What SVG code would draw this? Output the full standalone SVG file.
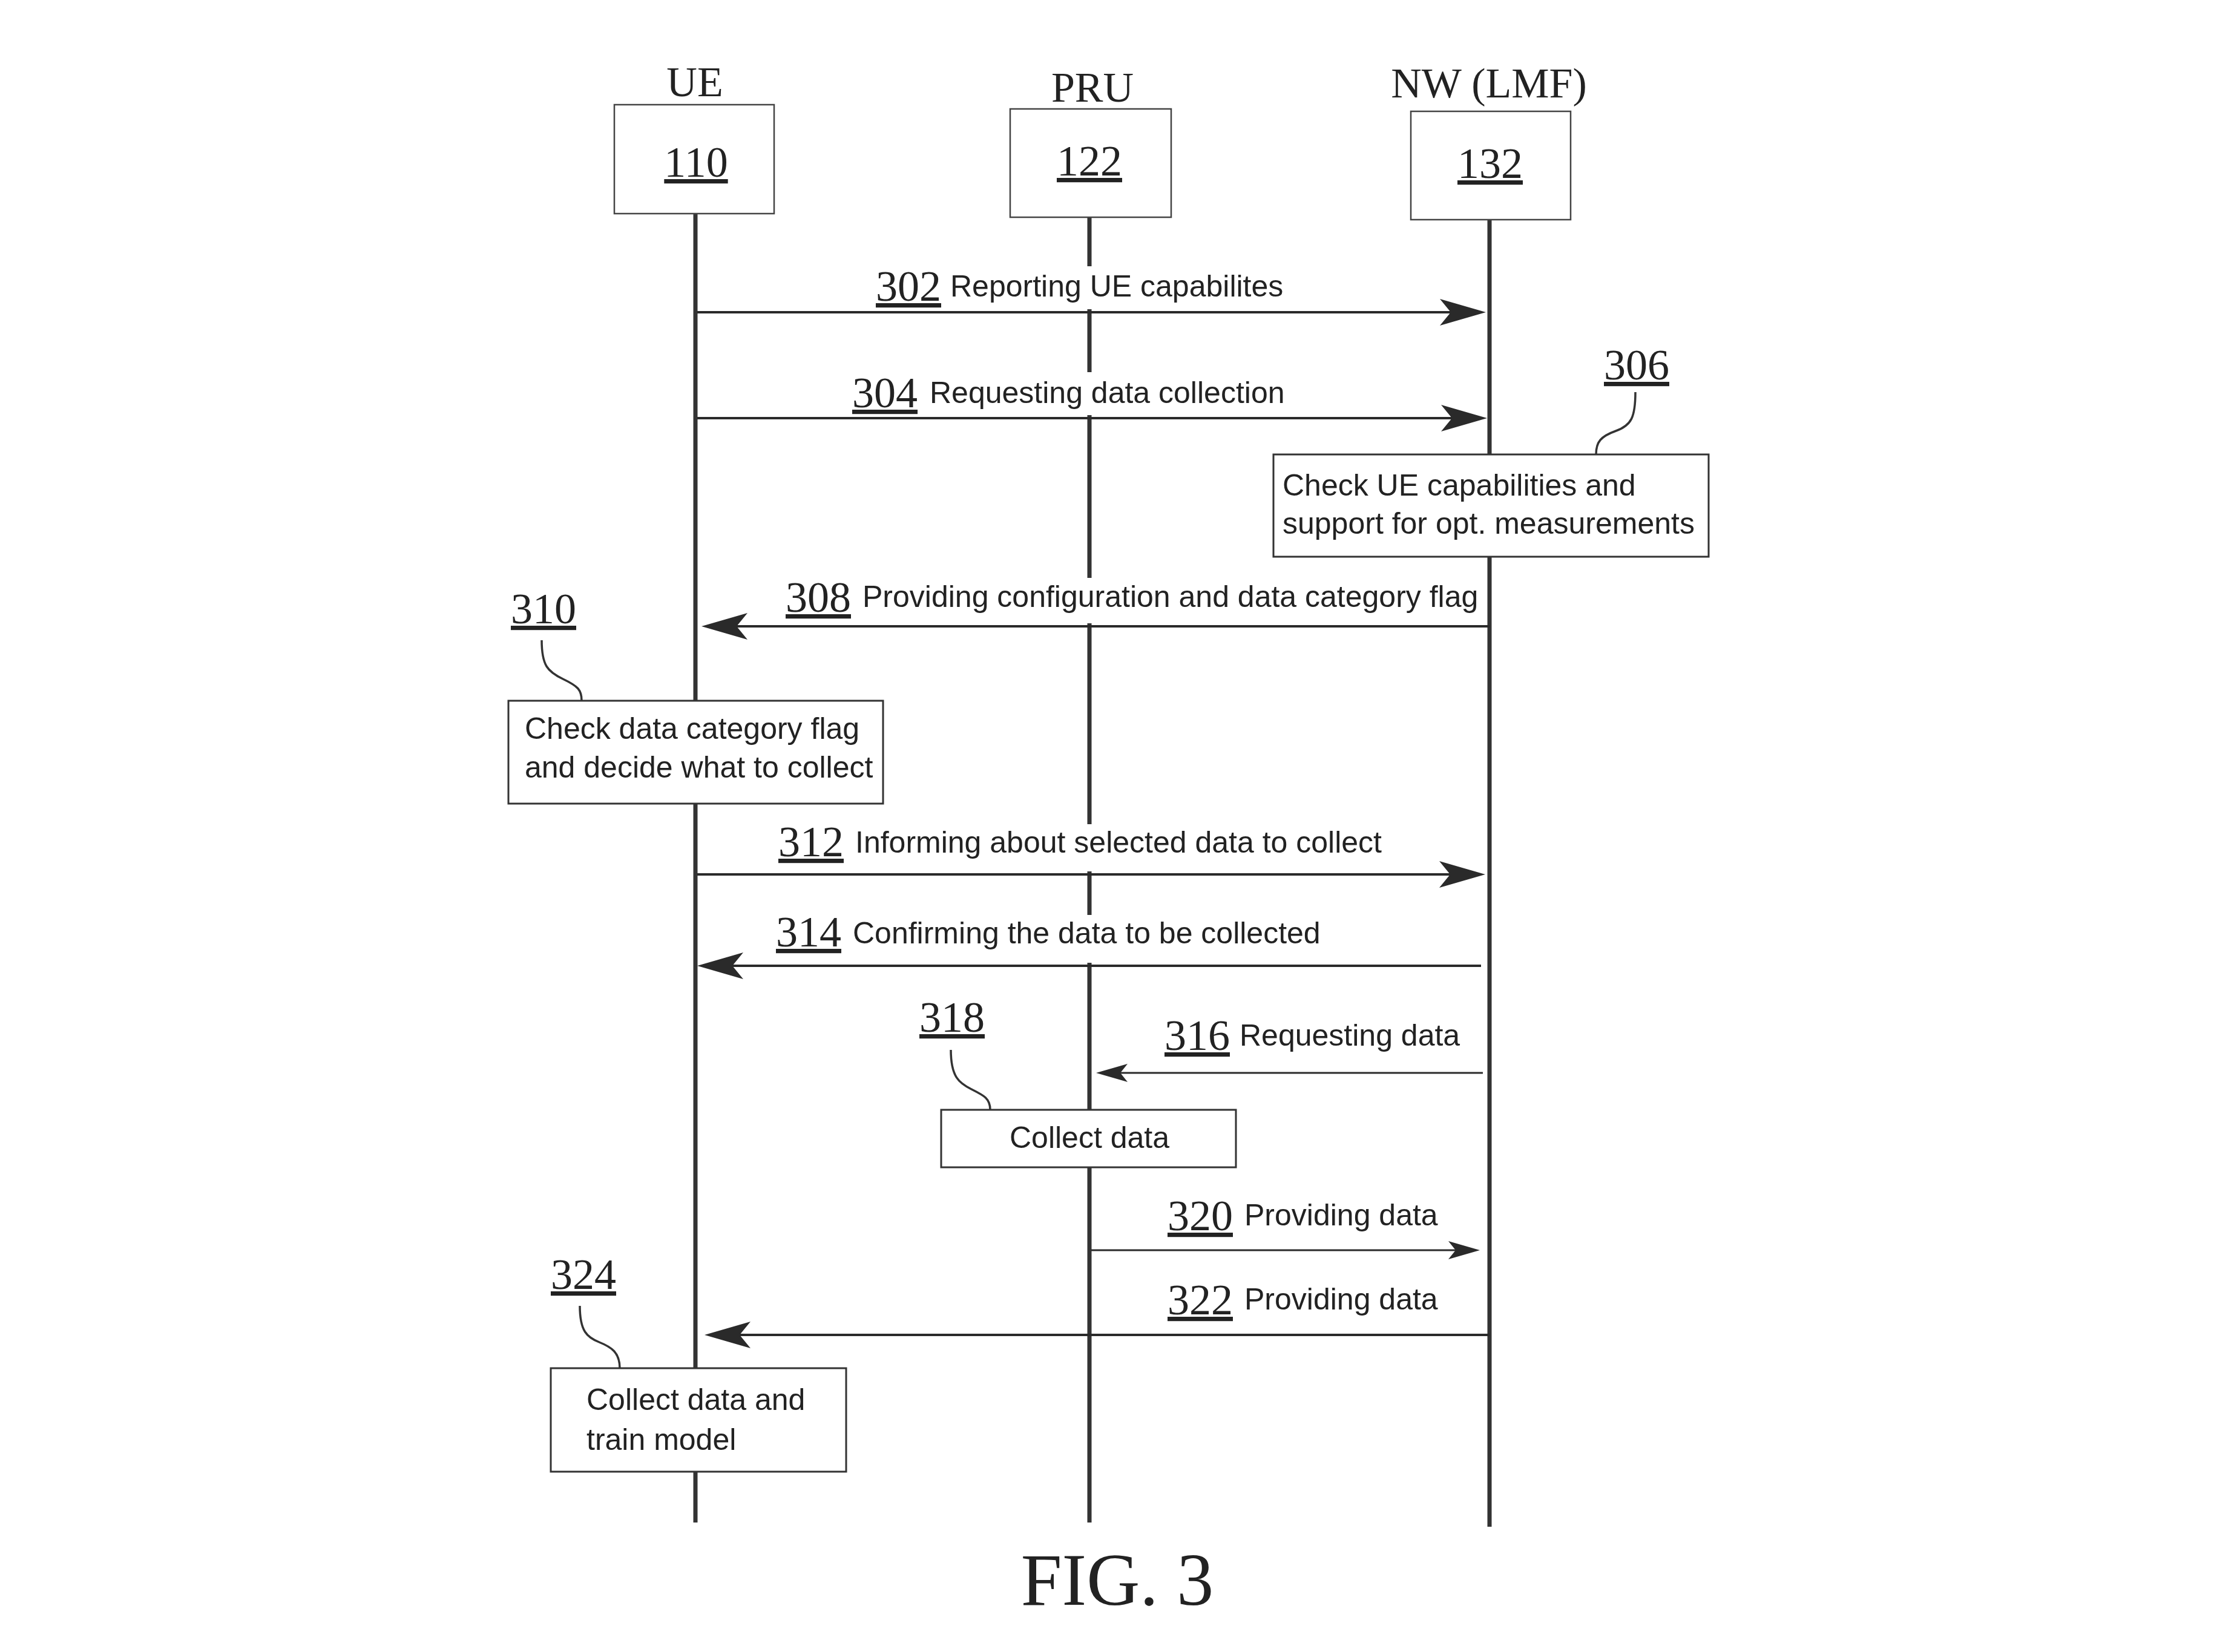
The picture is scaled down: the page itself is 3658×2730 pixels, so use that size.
<svg xmlns="http://www.w3.org/2000/svg" width="3658" height="2730" viewBox="0 0 3658 2730">
<style>
.hdr{font-family:"Liberation Serif","Times New Roman",serif;font-size:70px;fill:#222;text-anchor:middle}
.ref{font-family:"Liberation Serif","Times New Roman",serif;font-size:72px;fill:#222;text-decoration:underline}
.refc{font-family:"Liberation Serif","Times New Roman",serif;font-size:72px;fill:#222;text-decoration:underline;text-anchor:middle}
.lbl{font-family:"Liberation Sans",Arial,sans-serif;font-size:50px;fill:#222}
.hbox{fill:#fff;stroke:#444;stroke-width:2.5}
.pbox{fill:#fff;stroke:#333;stroke-width:3}
.life{stroke:#333;stroke-width:7;fill:none}
.msg{stroke:#2a2a2a;stroke-width:4;fill:none}
.msgs{stroke:#2a2a2a;stroke-width:3;fill:none}
.lead{stroke:#333;stroke-width:3.5;fill:none}
.bg{fill:#fff;stroke:none}
.fig{font-family:"Liberation Serif","Times New Roman",serif;font-size:122px;fill:#222;text-anchor:middle}
</style>
<defs>
<marker id="ah" markerUnits="userSpaceOnUse" markerWidth="80" markerHeight="46" refX="18" refY="22" orient="auto">
<path d="M0,0 L76,22 L0,44 L18,22 Z" fill="#2a2a2a"/>
</marker>
<marker id="ahs" markerUnits="userSpaceOnUse" markerWidth="56" markerHeight="32" refX="12" refY="15" orient="auto">
<path d="M0,0 L52,15 L0,30 L12,15 Z" fill="#2a2a2a"/>
</marker>
</defs>
<rect width="3658" height="2730" fill="#fff"/>

<g id="lifelines">
<line class="life" x1="1149" y1="353" x2="1149" y2="2516"/>
<line class="life" x1="1800" y1="359" x2="1800" y2="2516"/>
<line class="life" x1="2461" y1="363" x2="2461" y2="2523"/>
</g>

<g id="node-ue">
<text class="hdr" x="1148" y="159">UE</text>
<rect class="hbox" x="1015" y="173" width="264" height="180"/>
<text class="refc" x="1150" y="292">110</text>
</g>
<g id="node-pru">
<text class="hdr" x="1805" y="168">PRU</text>
<rect class="hbox" x="1669" y="180" width="266" height="179"/>
<text class="refc" x="1800" y="290">122</text>
</g>
<g id="node-nw">
<text class="hdr" x="2460" y="161">NW (LMF)</text>
<rect class="hbox" x="2331" y="184" width="264" height="179"/>
<text class="refc" x="2462" y="294">132</text>
</g>

<g id="connectors">
<g id="msg302">
<rect class="bg" x="1440" y="440" width="690" height="71"/>
<line class="msg" x1="1152" y1="516" x2="2397" y2="516" marker-end="url(#ah)"/>
<text class="ref" x="1447" y="497">302</text>
<text class="lbl" x="1570" y="490">Reporting UE capabilites</text>
</g>
<g id="msg304">
<rect class="bg" x="1400" y="615" width="730" height="71"/>
<line class="msg" x1="1152" y1="691" x2="2399" y2="691" marker-end="url(#ah)"/>
<text class="ref" x="1408" y="673">304</text>
<text class="lbl" x="1536" y="666">Requesting data collection</text>
</g>
<g id="msg308">
<rect class="bg" x="1290" y="955" width="1150" height="75"/>
<line class="msg" x1="2461" y1="1035" x2="1217" y2="1035" marker-end="url(#ah)"/>
<text class="ref" x="1298" y="1011">308</text>
<text class="lbl" x="1425" y="1003">Providing configuration and data category flag</text>
</g>
<g id="msg312">
<rect class="bg" x="1280" y="1362" width="1010" height="78"/>
<line class="msg" x1="1152" y1="1445" x2="2396" y2="1445" marker-end="url(#ah)"/>
<text class="ref" x="1286" y="1415">312</text>
<text class="lbl" x="1413" y="1409">Informing about selected data to collect</text>
</g>
<g id="msg314">
<rect class="bg" x="1275" y="1512" width="915" height="79"/>
<line class="msg" x1="2447" y1="1596" x2="1210" y2="1596" marker-end="url(#ah)"/>
<text class="ref" x="1282" y="1564">314</text>
<text class="lbl" x="1409" y="1559">Confirming the data to be collected</text>
</g>
<g id="msg316">
<line class="msgs" x1="2450" y1="1773" x2="1851" y2="1773" marker-end="url(#ahs)"/>
<text class="ref" x="1924" y="1735">316</text>
<text class="lbl" x="2048" y="1728">Requesting data</text>
</g>
<g id="msg320">
<line class="msgs" x1="1803" y1="2066" x2="2405" y2="2066" marker-end="url(#ahs)"/>
<text class="ref" x="1929" y="2033">320</text>
<text class="lbl" x="2056" y="2025">Providing data</text>
</g>
<g id="msg322">
<line class="msg" x1="2461" y1="2206" x2="1222" y2="2206" marker-end="url(#ah)"/>
<text class="ref" x="1929" y="2172">322</text>
<text class="lbl" x="2056" y="2164">Providing data</text>
</g>
</g>

<g id="step306">
<text class="ref" x="2650" y="627">306</text>
<path class="lead" d="M2702,648 C2702,690 2695,703 2670,712 S2637,730 2637,751"/>
<rect class="pbox" x="2104" y="751" width="719" height="169"/>
<text class="lbl" x="2119" y="819">Check UE capabilities and</text>
<text class="lbl" x="2119" y="882">support for opt. measurements</text>
</g>
<g id="step310">
<text class="ref" x="844" y="1030">310</text>
<path class="lead" d="M895,1058 C895,1100 905,1110 930,1122 S961,1140 961,1158"/>
<rect class="pbox" x="840" y="1158" width="619" height="170"/>
<text class="lbl" x="867" y="1221">Check data category flag</text>
<text class="lbl" x="867" y="1285">and decide what to collect</text>
</g>
<g id="step318">
<text class="ref" x="1519" y="1705">318</text>
<path class="lead" d="M1571,1735 C1571,1780 1585,1790 1605,1800 S1636,1815 1636,1834"/>
<rect class="pbox" x="1555" y="1834" width="487" height="95"/>
<text class="lbl" x="1800" y="1897" text-anchor="middle">Collect data</text>
</g>
<g id="step324">
<text class="ref" x="910" y="2130">324</text>
<path class="lead" d="M958,2158 C958,2200 970,2210 990,2218 S1024,2235 1024,2261"/>
<rect class="pbox" x="910" y="2261" width="488" height="171"/>
<text class="lbl" x="969" y="2330">Collect data and</text>
<text class="lbl" x="969" y="2396">train model</text>
</g>

<text class="fig" x="1846" y="2652">FIG. 3</text>
</svg>
